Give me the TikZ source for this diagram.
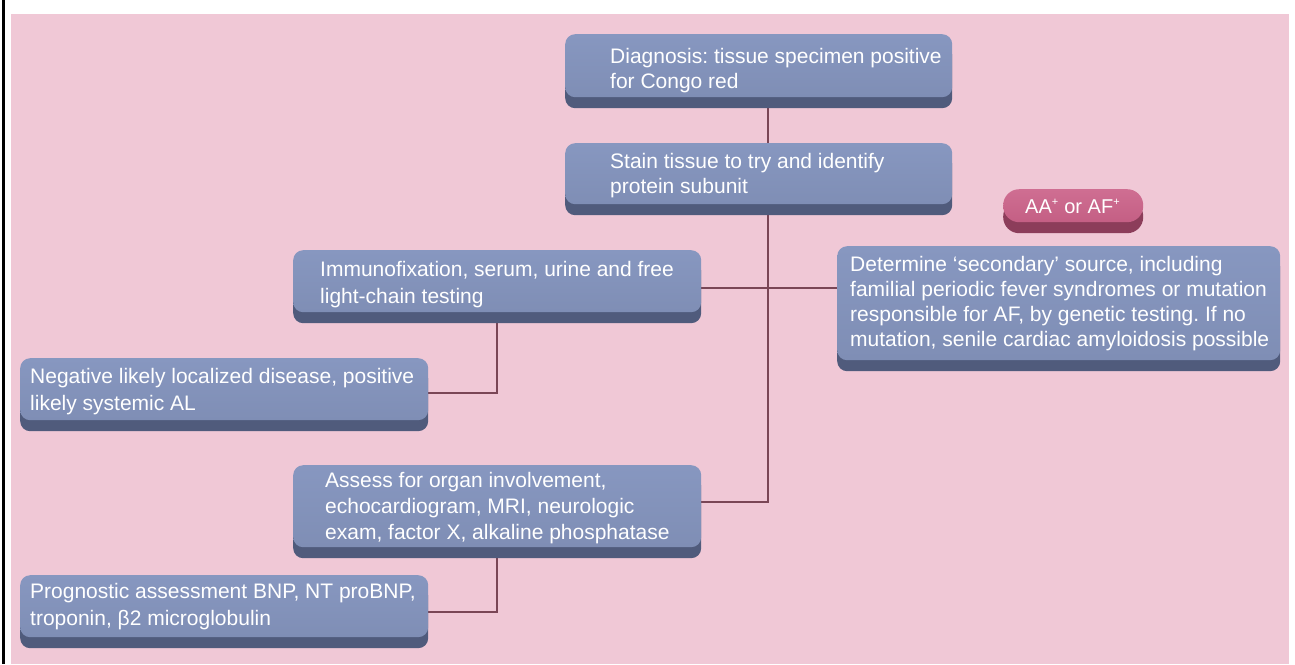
\documentclass[tikz,border=0pt]{standalone}
\usepackage{fontspec}
\setmainfont{Liberation Sans}
\usetikzlibrary{shadows,calc}
\pgfdeclarelayer{bg}
\pgfdeclarelayer{lines}
\pgfsetlayers{bg,lines,main}
\frenchspacing
\definecolor{pinkbg}{HTML}{F0C8D6}
\definecolor{faceA}{HTML}{8797C0}
\definecolor{faceB}{HTML}{7F8EB5}
\definecolor{slab}{HTML}{505B7C}
\definecolor{pillA}{HTML}{CF6E92}
\definecolor{pillB}{HTML}{C45F84}
\definecolor{pillslab}{HTML}{8C3D5A}
\definecolor{linecol}{HTML}{7A4656}
\newcommand{\supplus}{\textsuperscript{\fontsize{11}{11}\selectfont +}}
\tikzset{
  box/.style={rounded corners=10pt, top color=faceA, bottom color=faceB,
    draw=none, inner sep=0pt, anchor=north west,
    general shadow={fill=slab, shadow yshift=-11pt}},
  pill/.style={rounded corners=16pt, top color=pillA, bottom color=pillB,
    draw=none, inner sep=0pt, anchor=north west,
    general shadow={fill=pillslab, shadow yshift=-11pt}},
  txt/.style={text=white, align=left, inner sep=0pt, anchor=base west,
    font=\fontsize{21}{25}\selectfont},
  txtl/.style={txt, font=\fontsize{21}{26.5}\selectfont},
  conn/.style={draw=linecol, line width=2pt}
}
\begin{document}
\begin{tikzpicture}[x=1pt,y=-1pt]
\useasboundingbox (0,0) rectangle (1295,664);
\begin{pgfonlayer}{bg}
  \fill[white] (0,0) rectangle (1295,664);
  \fill[pinkbg] (11,14) rectangle (1289,664);
  \fill[black] (2,0) rectangle (5,664);
\end{pgfonlayer}

% boxes
\node[box, minimum width=387pt, minimum height=63pt] (diag) at (565,34) {};
\node[box, minimum width=387pt, minimum height=61pt] (stain) at (565,143) {};
\node[pill, minimum width=140pt, minimum height=33pt] (aa) at (1003,189) {};
\node[box, minimum width=443pt, minimum height=114pt] (det) at (837,246) {};
\node[box, minimum width=408pt, minimum height=62pt] (immuno) at (293,250) {};
\node[box, minimum width=408pt, minimum height=62pt] (neg) at (20,358) {};
\node[box, minimum width=408pt, minimum height=82pt] (assess) at (293,465) {};
\node[box, minimum width=408pt, minimum height=62pt] (prog) at (20,575) {};

% texts (anchored at the baseline of their last line)
\node[txt] (diagT) at (610,88) {Diagnosis: tissue specimen positive\\for Congo red};
\node[txt] (stainT) at (610,193) {Stain tissue to try and identify\\protein subunit};
\node[txt, font=\fontsize{20}{23}\selectfont] (aaT) at (1025,213) {AA\supplus{} or AF\supplus};
\node[txt] (detT) at (850,346) {Determine ‘secondary’ source, including\\familial periodic fever syndromes or mutation\\responsible for AF, by genetic testing. If no\\mutation, senile cardiac amyloidosis possible};
\node[txtl] (immunoT) at (320,303) {Immunofixation, serum, urine and free\\light-chain testing};
\node[txtl] (negT) at (30,410) {Negative likely localized disease, positive\\likely systemic AL};
\node[txt, font=\fontsize{21}{26}\selectfont] (assessT) at (325,539) {Assess for organ involvement,\\echocardiogram, MRI, neurologic\\exam, factor X, alkaline phosphatase};
\node[txtl] (progT) at (30,625) {Prognostic assessment BNP, NT proBNP,\\troponin, β2 microglobulin};

% connectors
\coordinate (trunk) at (768,0);
\coordinate (br) at (497,0);
\coordinate (hy) at (0,288);
\begin{pgfonlayer}{lines}
  \draw[conn] (diag.south -| trunk) -- (stain.north -| trunk);
  \draw[conn] (stain.south -| trunk) |- ([yshift=4pt]assess.east);
  \draw[conn] (immuno.east |- hy) -- (det.west |- hy);
  \draw[conn] (immuno.south -| br) |- ([yshift=-4pt]neg.east);
  \draw[conn] (assess.south -| br) |- ([yshift=-6pt]prog.east);
\end{pgfonlayer}
\end{tikzpicture}
\end{document}
